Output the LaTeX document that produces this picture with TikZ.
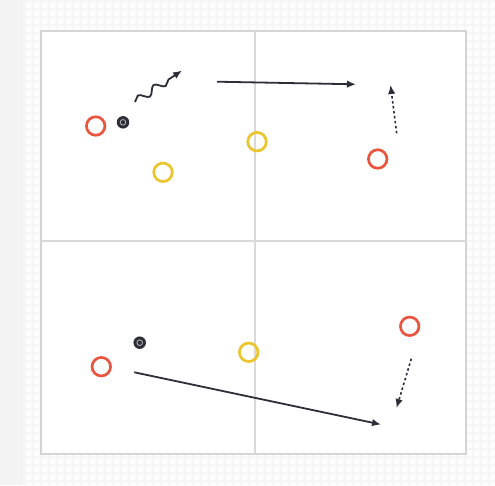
\documentclass[tikz,border=0pt]{standalone}
\usetikzlibrary{arrows.meta,decorations.pathmorphing}
\definecolor{redc}{HTML}{E9553E}
\definecolor{yelc}{HTML}{EBC52C}
\definecolor{inkc}{HTML}{2E2E38}
\definecolor{framec}{HTML}{D4D4D4}
\definecolor{linec}{HTML}{D9D9D9}
\definecolor{bgc}{HTML}{F3F3F3}
\definecolor{dotc}{HTML}{FDFDFD}
\definecolor{bg2c}{HTML}{F6F6F6}
\tikzset{
  x=1pt,y=-1pt,
  redring/.style={circle,draw=redc,line width=2.7pt,minimum size=18.5pt,inner sep=0pt},
  yelring/.style={circle,draw=yelc,line width=2.7pt,minimum size=18.5pt,inner sep=0pt},
  ball/.style={circle,fill=inkc,minimum size=12.5pt,inner sep=0pt},
  mv/.style={draw=inkc,line width=1.8pt,-{Latex[length=9pt,width=7.5pt]}},
  dotmv/.style={mv,line width=1.6pt,dash pattern=on 2.5pt off 2.5pt},
}
\begin{document}
\begin{tikzpicture}
\useasboundingbox (0,0) rectangle (495,485);
\fill[bgc] (0,0) rectangle (495,485);
\fill[bg2c] (23,0) rectangle (495,485);
\foreach \i in {0,...,58} {
  \foreach \j in {0,...,60} {
    \fill[dotc] ({26+8*\i},{2+8*\j}) rectangle ++(5.5,5.5);
  }
}
% main board
\fill[white] (41,31) rectangle (466,454);
\draw[framec,line width=1.6pt] (41,31) rectangle (466,454);
\draw[linec,line width=1.2pt] (255,31) -- (255,454);
\draw[linec,line width=1.2pt] (41,241) -- (466,241);
% players
\node[redring] (r1) at (95.7,126) {};
\node[redring] (r2) at (377.7,159) {};
\node[redring] (r3) at (409.7,326.3) {};
\node[redring] (r4) at (101.3,366.7) {};
\node[yelring] (y1) at (257,141.7) {};
\node[yelring] (y2) at (163,172.3) {};
\node[yelring] (y3) at (248.7,352.3) {};
\node[ball] (b1) at (123,122.3) {};
\draw[white!65!inkc,line width=0.8pt] (b1) circle (2.8pt);
\node[ball] (b2) at (139.7,342.7) {};
\draw[white!65!inkc,line width=0.8pt] (b2) circle (2.8pt);
% movement
\coordinate (w0) at (135,102);
\coordinate (w1) at (182,70.5);
\coordinate (s0) at (217,81.7);
\coordinate (s1) at (356,84.3);
\coordinate (d0) at (396.7,133.3);
\coordinate (d1) at (390.5,85);
\coordinate (l0) at (134.3,372.3);
\coordinate (l1) at (381,424.5);
\coordinate (e0) at (411.3,358.7);
\coordinate (e1) at (396.5,408);
\draw[mv,decorate,decoration={snake,amplitude=3.8pt,segment length=19pt,post length=8pt}] (w0) -- (w1);
\draw[mv] (s0) -- (s1);
\draw[dotmv] (d0) -- (d1);
\draw[mv] (l0) -- (l1);
\draw[dotmv] (e0) -- (e1);
\end{tikzpicture}
\end{document}
